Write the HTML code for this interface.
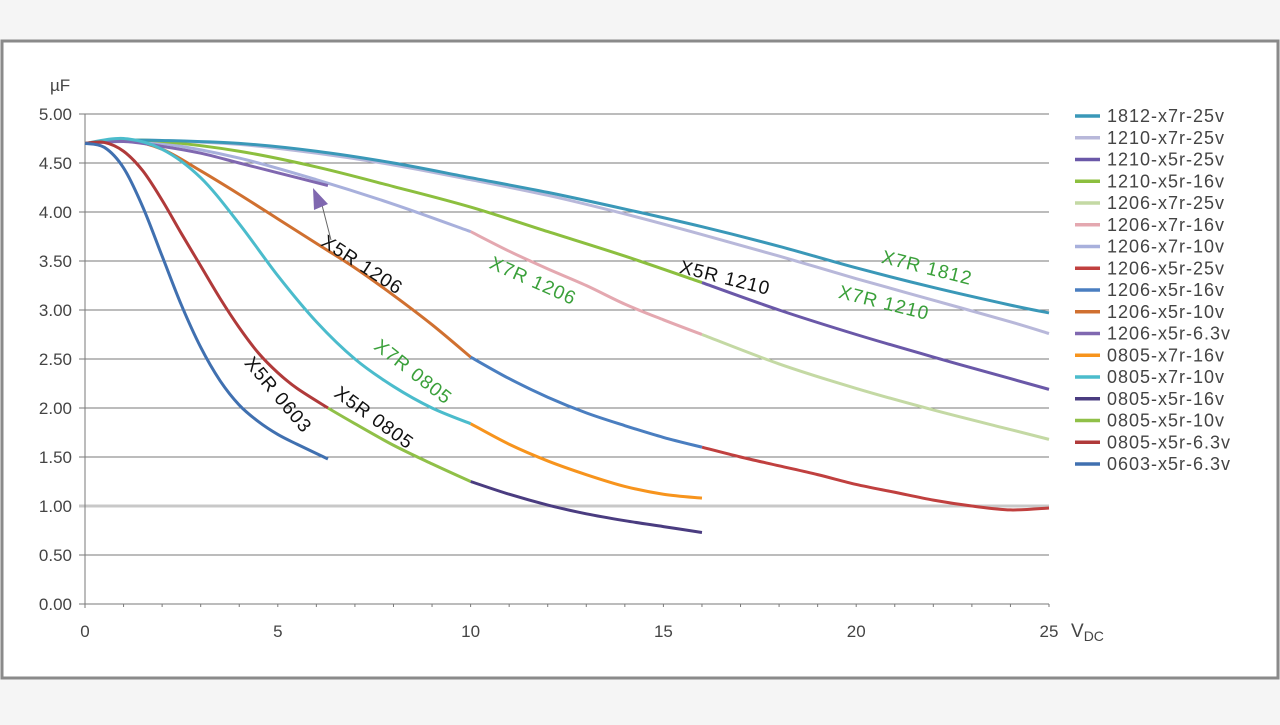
<!DOCTYPE html>
<html><head><meta charset="utf-8"><style>
html,body{margin:0;padding:0;background:#f5f5f5;}
#wrap{position:absolute;left:0;top:0;width:1280px;height:720px;}
svg text{font-family:"Liberation Sans",Arial,sans-serif;}
</style></head><body>
<div id="wrap">
<svg id="chart" width="1280" height="720" viewBox="0 0 1280 720">
<rect x="2" y="41" width="1276" height="637" fill="#ffffff" stroke="#8a8a8a" stroke-width="3"/>
<g id="grid"></g>
<g id="series"></g>
<g id="notes"></g>
<g id="legend"></g>
</svg>
</div>
<script>
const yTicks=[0,0.5,1,1.5,2,2.5,3,3.5,4,4.5,5];
const yTickLabels=["0.00","0.50","1.00","1.50","2.00","2.50","3.00","3.50","4.00","4.50","5.00"];
const xTicks=[0,5,10,15,20,25];
const xTickLabels=["0","5","10","15","20","25"];
const seriesNames=["1812-x7r-25v","1210-x7r-25v","1210-x5r-25v","1210-x5r-16v","1206-x7r-25v","1206-x7r-16v","1206-x7r-10v","1206-x5r-25v","1206-x5r-16v","1206-x5r-10v","1206-x5r-6.3v","0805-x7r-16v","0805-x7r-10v","0805-x5r-16v","0805-x5r-10v","0805-x5r-6.3v","0603-x5r-6.3v"];
const seriesColors=["#3a98b8","#b8b8da","#6a58a8","#8cbf3f","#c4d9a4","#e4a8b0","#a8b0dc","#c0403f","#4a7ec0","#d07030","#8068b0","#f7941d","#4bbccc","#4a3c80","#90c048","#b03a3a","#4070b0"];
// each series: [voltage, capacitance] pairs
const s1812x7r25=[[0,4.7],[1,4.73],[2,4.73],[4,4.7],[6,4.62],[8,4.5],[10,4.35],[12,4.2],[14,4.03],[16,3.85],[18,3.65],[20,3.43],[22,3.23],[24,3.05],[25,2.97]];
const s1210x7r25=[[0,4.7],[1,4.73],[2,4.73],[4,4.69],[6,4.6],[8,4.48],[10,4.33],[12,4.17],[14,3.98],[16,3.77],[18,3.55],[20,3.32],[22,3.1],[24,2.88],[25,2.76]];
const s1210x5r25=[[16,3.28],[18,3.0],[20,2.75],[22,2.52],[24,2.3],[25,2.19]];
const s1210x5r16=[[0,4.7],[1,4.73],[2,4.72],[4,4.62],[6,4.46],[8,4.26],[10,4.05],[12,3.8],[14,3.55],[16,3.28]];
const s1206x7r25=[[16,2.75],[18,2.45],[20,2.2],[22,1.98],[24,1.78],[25,1.68]];
const s1206x7r16=[[10,3.8],[11,3.6],[12,3.42],[13,3.25],[14,3.06],[15,2.9],[16,2.75]];
const s1206x7r10=[[0,4.7],[1,4.72],[2,4.7],[4,4.55],[6,4.33],[8,4.08],[10,3.8]];
const s1206x5r25=[[16,1.6],[17,1.5],[18,1.41],[19,1.32],[20,1.22],[21,1.14],[22,1.06],[23,1.0],[24,0.96],[25,0.98]];
const s1206x5r16=[[10,2.52],[11,2.3],[12,2.11],[13,1.95],[14,1.82],[15,1.7],[16,1.6]];
const s1206x5r10=[[0,4.7],[1,4.74],[2,4.64],[3,4.42],[4,4.18],[5,3.93],[6,3.68],[7,3.43],[8,3.15],[9,2.85],[10,2.52]];
const s1206x5r63=[[0,4.7],[1,4.72],[2,4.67],[3,4.6],[4,4.5],[5,4.4],[6.3,4.27]];
const s0805x7r16=[[10,1.84],[11,1.63],[12,1.46],[13,1.32],[14,1.2],[15,1.12],[16,1.08]];
const s0805x7r10=[[0,4.7],[1,4.75],[2,4.64],[3,4.35],[4,3.88],[5,3.35],[6,2.88],[7,2.5],[8,2.22],[9,2.0],[10,1.84]];
const s0805x5r16=[[10,1.25],[11,1.12],[12,1.01],[13,0.92],[14,0.85],[15,0.79],[16,0.73]];
const s0805x5r10=[[6.3,2.0],[7,1.84],[8,1.62],[9,1.43],[10,1.25]];
const s0805x5r63=[[0,4.7],[0.5,4.71],[1,4.62],[1.5,4.42],[2,4.12],[2.5,3.78],[3,3.45],[3.5,3.12],[4,2.82],[4.5,2.56],[5,2.36],[5.5,2.2],[6.3,2.0]];
const s0603x5r63=[[0,4.7],[0.5,4.66],[1,4.45],[1.5,4.05],[2,3.55],[2.5,3.05],[3,2.62],[3.5,2.28],[4,2.03],[4.5,1.86],[5,1.73],[5.5,1.63],[6.3,1.48]];
const seriesData=[s1812x7r25,s1210x7r25,s1210x5r25,s1210x5r16,s1206x7r25,s1206x7r16,s1206x7r10,s1206x5r25,s1206x5r16,s1206x5r10,s1206x5r63,s0805x7r16,s0805x7r10,s0805x5r16,s0805x5r10,s0805x5r63,s0603x5r63];
const drawOrder=[4,5,6,1,3,2,0,7,8,9,10,11,12,13,14,15,16];

const NS="http://www.w3.org/2000/svg";
const X0=85,X1=1049,Y0=604,Y1=114;
function xs(v){return X0+(X1-X0)*v/25;}
function ys(c){return Y0-(Y0-Y1)*c/5;}
function mk(tag,attrs,parent){const e=document.createElementNS(NS,tag);for(const k in attrs)e.setAttribute(k,attrs[k]);parent.appendChild(e);return e;}
const grid=document.getElementById('grid');
yTicks.forEach((t,i)=>{
  const l=mk('line',{x1:X0-6,x2:X1,y1:ys(t),y2:ys(t),stroke:t===1?'#c8c8c8':'#7a7a7a','stroke-width':t===1?3:1},grid);
  
  
  const tx=mk('text',{x:72,y:ys(t)+6,'text-anchor':'end','font-size':17,fill:'#444'},grid);
  tx.textContent=yTickLabels[i];
  
  
});
mk('line',{x1:X0,x2:X0,y1:Y1,y2:Y0+4,stroke:'#7a7a7a','stroke-width':1},grid);
for(let v=0;v<=25;v++){mk('line',{x1:xs(v),x2:xs(v),y1:Y0,y2:Y0+3,stroke:'#7a7a7a'},grid);}
xTicks.forEach((t,i)=>{
  const tx=mk('text',{x:xs(t),y:637,'text-anchor':'middle','font-size':17,fill:'#444'},grid);
  tx.textContent=xTickLabels[i];
  
  
});
const yt=mk('text',{x:50,y:91,'font-size':17,fill:'#444'},grid);yt.textContent='µF';


const xt=mk('text',{x:1071,y:637,'font-size':19,fill:'#444'},grid);xt.innerHTML='V<tspan font-size="14" dy="4">DC</tspan>';



function pathD(pts){
  const p=pts.map(q=>[xs(q[0]),ys(q[1])]);
  let d='M'+p[0][0]+','+p[0][1];
  for(let i=0;i<p.length-1;i++){
    const a=p[i-1]||p[i],b=p[i],c=p[i+1],e=p[i+2]||c;
    d+=' C'+(b[0]+(c[0]-a[0])/6)+','+(b[1]+(c[1]-a[1])/6)+' '+(c[0]-(e[0]-b[0])/6)+','+(c[1]-(e[1]-b[1])/6)+' '+c[0]+','+c[1];
  }
  return d;
}
const sg=document.getElementById('series');
drawOrder.forEach(i=>{
  const p=mk('path',{d:pathD(seriesData[i]),fill:'none',stroke:seriesColors[i],'stroke-width':3,'stroke-linecap':'butt'},sg);
  
  
});
const lg=document.getElementById('legend');
seriesNames.forEach((n,i)=>{
  const y=116+i*21.75;
  mk('line',{x1:1075,x2:1100,y1:y,y2:y,stroke:seriesColors[i],'stroke-width':3.5},lg);
  const t=mk('text',{x:1107,y:y+6,'font-size':18,'letter-spacing':'1',fill:'#444'},lg);
  t.textContent=n;
  
  
});
const notes=document.getElementById('notes');
const labels=[["X5R 1206",362,265,33,"#111"],["X7R 1206",533,281,24,"#3aa03a"],["X5R 1210",725,278,14,"#111"],["X7R 1812",927,268,14,"#3aa03a"],["X7R 1210",884,303,14,"#3aa03a"],["X7R 0805",413,372,38,"#3aa03a"],["X5R 0805",374,418,36,"#111"],["X5R 0603",278,395,50,"#111"]];
labels.forEach(l=>{
  const t=mk('text',{x:l[1],y:l[2]+6,'text-anchor':'middle','font-size':19,'letter-spacing':'1',fill:l[4],transform:'rotate('+l[3]+' '+l[1]+' '+l[2]+')'},notes);
  t.textContent=l[0];
  
  
});
mk('line',{x1:331,y1:240,x2:322,y2:205,stroke:'#666','stroke-width':1},notes);
mk('polygon',{points:'313,188 328,204 314,210',fill:'#8068b0'},notes);
</script>
</body></html>
